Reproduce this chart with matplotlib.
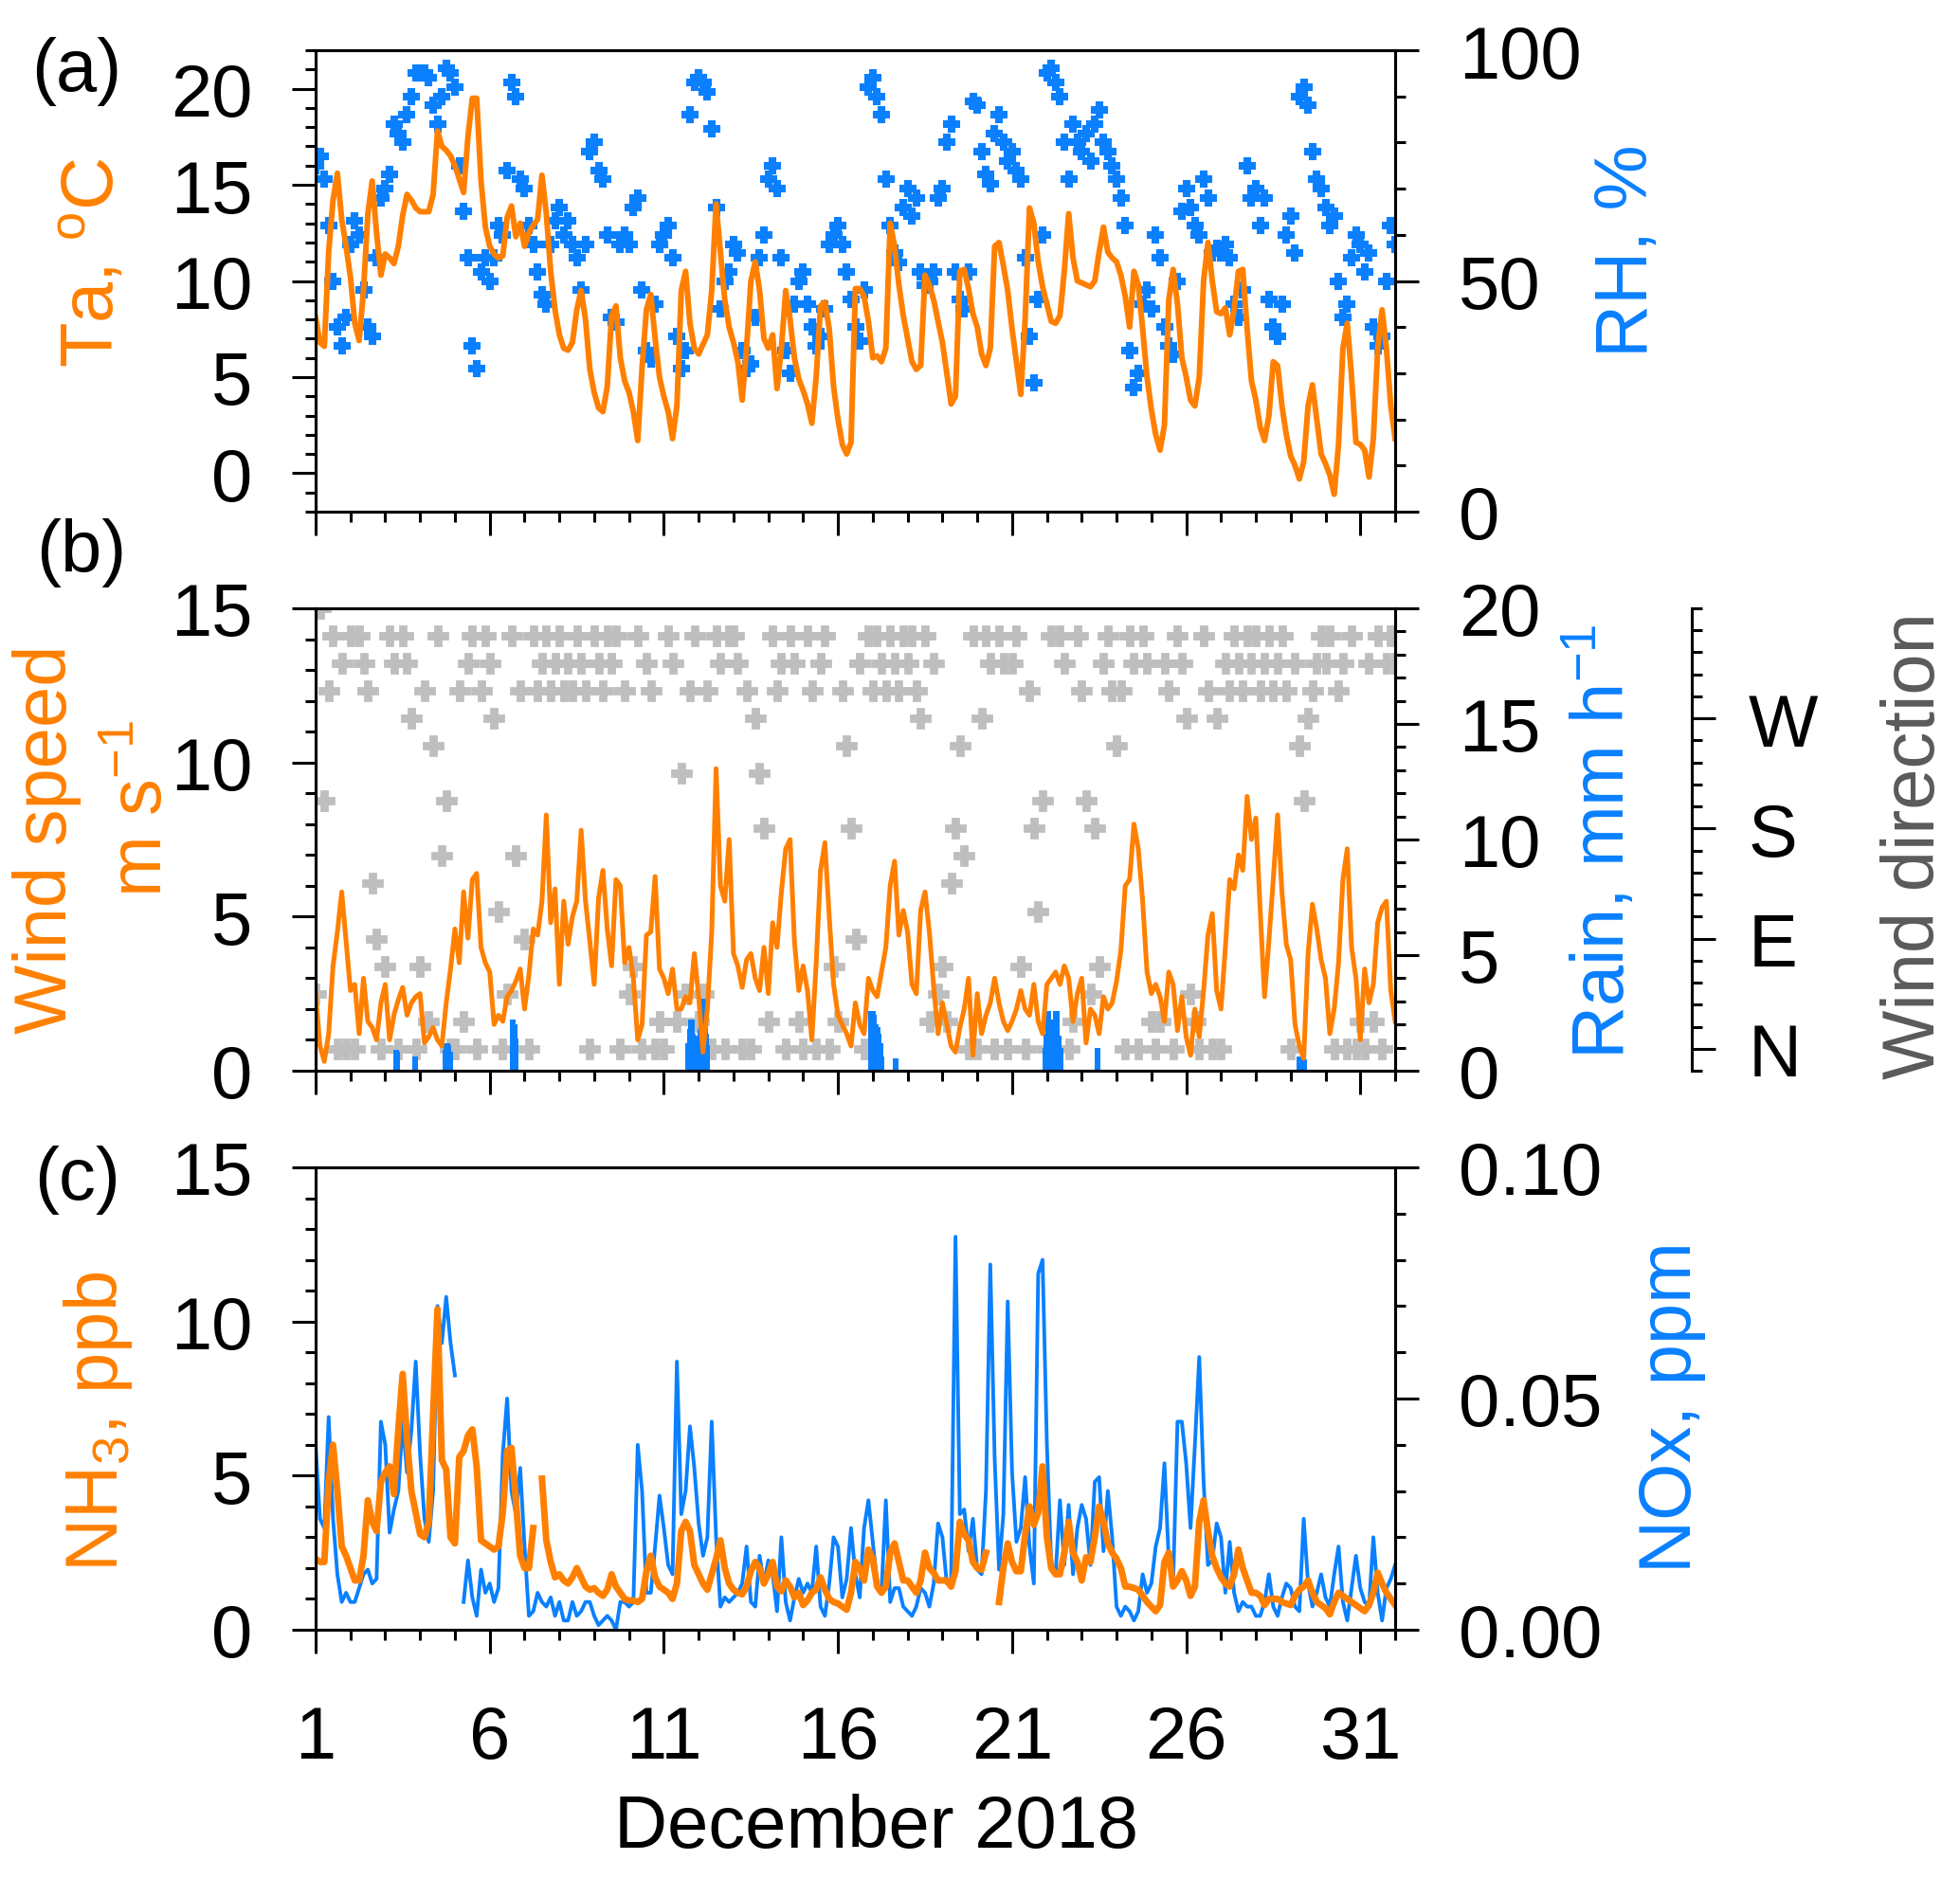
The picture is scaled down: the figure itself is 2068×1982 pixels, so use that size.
import numpy as np
import matplotlib
matplotlib.use('Agg')
import matplotlib.pyplot as plt
from matplotlib.ticker import MultipleLocator, FixedLocator, FormatStrFormatter

plt.rcParams['font.family'] = ['Liberation Sans', 'DejaVu Sans']
plt.rcParams['mathtext.fontset'] = 'custom'
plt.rcParams['mathtext.rm'] = 'Liberation Sans'
plt.rcParams['mathtext.it'] = 'Liberation Sans:italic'
plt.rcParams['mathtext.default'] = 'regular'

ORANGE = '#ff8000'
BLUE = '#0a80ff'
GREY = '#bebebe'
DARKGREY = '#5a5a5a'
FS = 56

# 3-hourly values, 1 Dec 00:00 .. 1 Jan 00:00 (day of month as x)
steps_per_day = 8

ta = [8.1, 6.8, 6.6, 11.5, 14.2, 15.6, 13.2, 11.8,
      10.2, 7.8, 6.9, 9.5, 13.5, 15.2, 12.5, 10.3,
      11.4, 11.2, 10.9, 11.8, 13.4, 14.5, 14.2, 13.8,
      13.6, 13.6, 13.6, 14.5, 17.8, 17.0, 16.8, 16.5,
      16.0, 15.3, 14.6, 17.5, 19.5, 19.5, 15.2, 12.8,
      11.8, 11.4, 11.2, 11.3, 13.3, 13.9, 12.3, 13.0,
      11.8, 12.5, 12.9, 13.2, 15.5, 13.5, 10.5, 8.5,
      7.2, 6.5, 6.4, 6.8, 8.5, 9.5, 8.0, 5.4,
      4.2, 3.4, 3.2, 4.5, 8.2, 8.7, 6.0, 4.8,
      4.2, 3.2, 1.7, 5.5, 8.5, 9.3, 7.0, 5.0,
      4.0, 3.2, 1.8, 3.5, 9.5, 10.5, 7.8, 6.5,
      6.2, 6.7, 7.2, 9.5, 14.0, 11.5, 9.0, 7.6,
      6.8, 5.8, 3.8, 6.5, 10.0, 11.0, 9.5, 7.0,
      6.5, 7.2, 4.4, 6.5, 9.5, 8.0, 6.0, 4.9,
      4.3, 3.6, 2.6, 5.0, 8.7, 8.9, 7.5, 4.5,
      2.8, 1.5, 1.0, 1.6, 9.6, 9.6, 9.2, 7.9,
      6.0, 6.1, 5.8, 6.5, 13.0, 11.8, 9.8, 8.2,
      7.0, 5.8, 5.4, 5.6, 10.3, 9.8, 9.0, 7.9,
      6.8, 5.2, 3.6, 4.0, 10.5, 10.6, 9.6, 8.3,
      7.6, 6.2, 5.6, 6.5, 11.8, 12.0, 10.8, 9.5,
      7.5, 5.8, 4.1, 8.0, 13.8, 13.0, 11.0, 9.7,
      8.8, 7.9, 7.8, 8.2, 10.5, 13.5, 11.2, 10.0,
      9.9, 9.8, 9.7, 10.0, 11.5, 12.8, 11.5, 11.2,
      11.0, 10.3, 9.2, 7.6, 10.5, 9.8, 7.5, 5.0,
      3.3, 2.0, 1.2, 2.5, 9.0, 10.6, 8.8, 6.0,
      5.0, 3.8, 3.5, 5.0, 10.0, 12.0, 10.0, 8.4,
      8.3, 8.6, 7.2, 8.5, 10.5, 10.6, 7.5, 4.8,
      3.8, 2.4, 1.7, 3.0, 5.8, 5.6, 3.5, 2.0,
      0.9, 0.4, -0.3, 0.6, 3.5, 4.6, 2.8, 1.0,
      0.5, -0.1, -1.1, 1.5, 6.5, 7.8, 5.0, 1.6,
      1.5, 1.2, -0.2, 1.8, 6.5, 8.5, 6.5, 3.5,
      1.8]

rh = [75, 77, 72, 62, 50, 40, 36, 42,
      58, 63, 60, 48, 40, 38, 55, 68,
      70, 73, 84, 82, 80, 86, 90, 95,
      95, 95, 94, 88, 84, 90, 96, 95,
      92, 75, 65, 55, 36, 31, 52, 55,
      50, 55, 62, 60, 74, 93, 90, 72,
      70, 62, 58, 52, 47, 45, 58, 63,
      66, 60, 63, 58, 55, 48, 58, 78,
      80, 74, 72, 60, 42, 41, 58, 60,
      58, 66, 68, 48, 35, 33, 45, 58,
      60, 62, 55, 38, 31, 35, 86, 93,
      94, 93, 91, 83, 66, 44, 50, 52,
      58, 56, 35, 31, 32, 42, 55, 60,
      72, 75, 70, 55, 35, 30, 45, 50,
      52, 45, 40, 36, 38, 44, 58, 60,
      62, 58, 52, 46, 40, 37, 48, 92,
      94, 90, 86, 72, 62, 56, 54, 66,
      70, 64, 68, 52, 49, 50, 52, 68,
      70, 80, 84, 52, 46, 44, 52, 89,
      88, 78, 73, 71, 82, 86, 80, 76,
      78, 74, 72, 55, 38, 28, 46, 60,
      95, 96, 93, 90, 80, 72, 84, 80,
      78, 82, 76, 84, 87, 80, 78, 75,
      72, 68, 62, 35, 27, 30, 45, 48,
      44, 60, 55, 40, 36, 34, 50, 65,
      70, 66, 62, 60, 72, 68, 56, 57,
      56, 58, 55, 45, 42, 48, 75, 68,
      70, 62, 68, 46, 40, 38, 45, 60,
      64, 56, 90, 92, 88, 78, 72, 70,
      66, 62, 64, 50, 42, 45, 55, 60,
      58, 52, 56, 40, 36, 38, 50, 62,
      58]

ws = [2.5, 0.8, 0.3, 1.2, 3.4, 4.5, 5.8, 4.2,
      2.6, 2.8, 1.2, 3.0, 1.6, 1.4, 1.0, 2.2,
      2.8, 1.0, 1.8, 2.3, 2.7, 1.8, 2.2, 2.4,
      2.5, 0.9, 1.1, 1.4, 1.0, 0.8, 2.2, 3.3,
      4.6, 3.5, 5.8, 4.3, 6.2, 6.4, 4.0, 3.5,
      3.2, 1.5, 1.8, 1.6, 2.4, 2.6, 2.9, 3.3,
      2.0, 3.1, 4.6, 4.4, 5.5, 8.3, 4.8, 5.9,
      2.8, 5.5, 4.1, 5.0, 5.5, 7.8, 5.5, 4.2,
      2.8, 5.6, 6.5, 4.6, 3.4, 6.2, 6.0, 3.5,
      4.0, 3.0, 1.0, 1.5, 4.4, 4.5, 6.3, 3.3,
      3.0, 2.5, 3.3, 2.0, 2.0, 2.4, 2.2, 3.8,
      2.4, 0.6, 2.0, 4.5, 9.8, 6.0, 5.5, 7.5,
      3.8, 3.4, 2.7, 3.6, 3.8, 3.0, 2.6, 4.0,
      2.5, 4.8, 4.0, 5.8, 7.2, 7.5, 4.2, 2.6,
      3.4, 2.6, 1.0, 3.5, 6.5, 7.4, 5.0, 2.8,
      1.8, 1.5, 1.2, 0.8, 2.2, 1.5, 1.2, 3.0,
      2.6, 2.4, 3.2, 4.0, 6.0, 6.8, 4.4, 5.2,
      4.5, 2.8, 2.5, 5.2, 5.8, 4.5, 2.7, 1.2,
      2.2, 1.5, 0.8, 0.6, 1.4, 2.0, 3.0, 0.5,
      2.5, 1.2, 1.8, 2.2, 3.0, 2.2, 1.6, 1.3,
      1.6, 2.0, 2.6, 2.0, 1.8, 2.8, 1.6, 1.2,
      2.8, 3.0, 3.2, 2.8, 3.4, 3.0, 1.6, 2.5,
      3.0, 0.9, 2.0, 1.8, 1.2, 2.4, 2.0, 2.2,
      2.9, 3.9, 6.0, 6.2, 8.0, 7.2, 5.5, 3.2,
      2.5, 2.8, 2.4, 1.6, 3.2, 2.8, 1.3, 2.4,
      1.1, 0.5, 2.0, 1.1, 2.6, 4.4, 5.1, 2.6,
      2.0, 4.0, 6.2, 5.9, 7.0, 6.5, 8.9, 7.5,
      8.2, 5.2, 2.4, 4.2, 6.2, 8.3, 5.8, 4.1,
      3.6, 1.5, 0.8, 0.4, 3.8, 5.4, 4.6, 3.6,
      3.0, 1.2, 2.0, 3.5, 6.2, 7.2, 4.0, 3.0,
      1.0, 3.3, 2.2, 2.8, 4.8, 5.3, 5.5, 2.6,
      1.6]

# wind direction as 16-point compass sector (0 = N, 4 = E, 8 = S, 12 = W, 16 = N)
wd_sector = [2, 16, 9, 13, 15, 0, 14, 0,
             15, 0, 15, 14, 13, 6, 4, 0,
             3, 15, 14, 0, 15, 14, 12, 0,
             3, 13, 1, 11, 15, 7, 9, 0,
             0, 13, 1, 14, 15, 0, 13, 15,
             14, 12, 5, 0, 2, 15, 7, 13,
             4, 0, 15, 13, 14, 15, 13, 14,
             15, 13, 14, 13, 15, 14, 13, 0,
             15, 14, 13, 15, 14, 15, 0, 13,
             2, 3, 15, 0, 14, 13, 0, 1,
             0, 15, 14, 1, 10, 2, 13, 15,
             1, 2, 13, 0, 15, 14, 0, 15,
             15, 14, 0, 13, 0, 12, 10, 8,
             1, 15, 13, 14, 0, 15, 14, 1,
             0, 15, 13, 0, 14, 15, 0, 3,
             1, 13, 11, 8, 4, 14, 0, 15,
             13, 15, 14, 13, 15, 14, 13, 15,
             14, 15, 13, 12, 15, 1, 14, 2,
             3, 1, 6, 8, 11, 7, 0, 15,
             0, 12, 15, 14, 0, 15, 14, 0,
             14, 15, 3, 0, 13, 8, 5, 9,
             0, 15, 0, 15, 14, 0, 1, 15,
             13, 9, 2, 8, 3, 14, 15, 13,
             11, 13, 0, 15, 14, 0, 15, 14,
             1, 0, 1, 14, 13, 0, 15, 14,
             12, 2, 1, 0, 15, 13, 0, 12,
             0, 14, 13, 15, 14, 13, 15, 14,
             15, 13, 14, 15, 13, 14, 15, 13,
             0, 14, 11, 9, 12, 13, 14, 15,
             14, 15, 0, 13, 14, 0, 15, 0,
             1, 0, 14, 1, 15, 0, 14, 15,
             14]

# hourly rain events
rain_day = [3.31, 3.35, 3.85, 4.73, 4.77, 4.81, 4.85, 6.67, 6.71, 6.75,
            11.71, 11.75, 11.79, 11.83, 11.88, 11.92, 11.96, 12.0, 12.04,
            12.08, 12.13, 12.17, 12.21, 12.25,
            16.96, 17.0, 17.04, 17.08, 17.13, 17.17, 17.21, 17.25, 17.65,
            21.96, 22.0, 22.04, 22.08, 22.13, 22.17, 22.21, 22.25, 22.29,
            22.33, 22.38, 23.46, 29.25, 29.29, 29.33, 29.38]
rain_mm = [0.9, 0.8, 0.6, 0.9, 1.2, 1.1, 0.8, 2.2, 2.0, 1.4,
           1.2, 1.8, 2.2, 1.6, 1.3, 1.0, 1.5, 1.2, 1.8,
           2.6, 3.1, 2.4, 1.6, 1.1,
           2.6, 2.6, 2.4, 2.0, 1.9, 1.6, 1.2, 0.6, 0.55,
           1.0, 1.6, 2.6, 2.2, 1.5, 1.5, 2.0, 2.6, 2.6,
           1.5, 1.0, 1.0, 0.6, 0.6, 0.6, 0.5]

nan = np.nan
nh3 = [2.3, 2.2, 2.2, 4.8, 6.0, 4.5, 2.7, 2.4,
       2.0, 1.6, 1.6, 2.4, 4.2, 3.5, 3.2, 4.8,
       5.1, 5.3, 4.4, 6.5, 8.3, 6.2, 4.5, 3.8,
       3.1, 3.0, 3.5, 7.0, 10.4, 5.5, 5.2, 3.0,
       2.8, 5.6, 5.8, 6.3, 6.5, 5.3, 2.9, 2.8,
       2.7, 2.6, 2.7, 3.8, 5.8, 5.9, 4.2, 2.4,
       2.0, 2.0, 3.3, nan, 4.9, 2.9, 2.2, 1.7,
       1.8, 1.6, 1.5, 1.7, 2.0, 1.7, 1.4, 1.3,
       1.35, 1.2, 1.1, 1.3, 1.8, 1.4, 1.2, 1.0,
       0.95, 0.95, 0.9, 1.0, 1.9, 2.4, 1.7, 1.4,
       1.3, 1.2, 1.0, 1.5, 3.2, 3.5, 3.2, 2.1,
       1.8, 1.5, 1.3, 1.8, 2.3, 2.9, 2.0, 1.5,
       1.3, 1.2, 1.15, 1.4, 1.9, 2.2, 2.0, 1.5,
       1.8, 2.2, 1.4, 1.25, 1.6, 1.4, 1.05, 1.2,
       0.8, 0.95, 1.2, 1.3, 1.7, 1.3, 1.0, 0.9,
       0.85, 0.75, 0.65, 1.2, 2.2, 2.0, 1.6, 2.6,
       2.3, 1.4, 1.2, 1.4, 2.5, 2.8, 2.2, 1.6,
       1.6, 1.4, 1.2, 1.6, 2.5, 2.0, 1.85, 1.6,
       1.6, 1.6, 1.4, 1.9, 3.5, 3.1, 2.9, 2.2,
       2.0, 1.95, 2.5, nan, nan, 0.9, 2.0, 2.8,
       2.2, 1.9, 1.9, 3.1, 4.0, 3.4, 3.8, 5.3,
       3.0, 2.0, 1.8, 1.8, 2.5, 3.5, 2.5, 2.2,
       1.6, 2.35, 2.2, 3.0, 4.0, 3.5, 2.8, 2.5,
       2.3, 2.0, 1.4, 1.4, 1.35, 1.3, 1.1, 0.9,
       0.75, 0.6, 0.8, 2.2, 2.5, 1.4, 1.6, 1.9,
       1.6, 1.1, 1.4, 3.5, 4.2, 3.2, 2.4, 2.0,
       1.7, 1.5, 1.4, 1.8, 2.6, 2.0, 1.6, 1.2,
       1.2, 1.1, 0.8, 1.0, 1.0, 1.0, 0.9, 0.85,
       0.8, 1.1, 1.3, 1.4, 1.6, 1.2, 0.9, 0.8,
       0.7, 0.5, 0.9, 1.2, 1.1, 1.0, 0.9, 0.8,
       0.7, 0.6, 0.8, 1.2, 1.85, 1.5, 1.2, 1.0,
       0.8]

nox = [0.040, 0.024, 0.022, 0.046, 0.024, 0.012, 0.006, 0.008,
       0.006, 0.006, 0.009, 0.012, 0.013, 0.010, 0.011, 0.045,
       0.040, 0.021, 0.026, 0.030, 0.045, 0.034, 0.043, 0.058,
       0.038, 0.024, 0.019, 0.030, 0.070, 0.062, 0.072, 0.062,
       0.055, nan, 0.006, 0.015, 0.007, 0.003, 0.013, 0.008,
       0.010, 0.006, 0.009, 0.038, 0.050, 0.030, 0.025, 0.035,
       0.018, 0.003, 0.004, 0.008, 0.006, 0.005, 0.007, 0.003,
       0.006, 0.002, 0.002, 0.006, 0.003, 0.004, 0.006, 0.006,
       0.003, 0.001, 0.002, 0.003, 0.002, 0.000, 0.006, 0.006,
       0.005, 0.006, 0.040, 0.030, 0.008, 0.008, 0.018, 0.029,
       0.022, 0.014, 0.012, 0.058, 0.025, 0.030, 0.044, 0.035,
       0.023, 0.016, 0.020, 0.045, 0.020, 0.005, 0.007, 0.006,
       0.007, 0.008, 0.010, 0.018, 0.006, 0.005, 0.016, 0.010,
       0.015, 0.012, 0.004, 0.020, 0.006, 0.002, 0.007, 0.011,
       0.008, 0.010, 0.008, 0.018, 0.005, 0.003, 0.010, 0.020,
       0.018, 0.007, 0.011, 0.022, 0.012, 0.007, 0.022, 0.028,
       0.019, 0.010, 0.008, 0.028, 0.006, 0.009, 0.009, 0.005,
       0.004, 0.003, 0.005, 0.009, 0.008, 0.005, 0.010, 0.023,
       0.020, 0.010, 0.011, 0.085, 0.025, 0.026, 0.017, 0.024,
       0.013, 0.012, 0.030, 0.079, 0.037, 0.013, 0.025, 0.071,
       0.034, 0.019, 0.022, 0.033, 0.018, 0.010, 0.077, 0.080,
       0.040, 0.014, 0.012, 0.028, 0.014, 0.027, 0.012, 0.022,
       0.027, 0.024, 0.014, 0.032, 0.033, 0.017, 0.030, 0.020,
       0.005, 0.003, 0.005, 0.004, 0.002, 0.004, 0.012, 0.008,
       0.010, 0.018, 0.022, 0.036, 0.015, 0.010, 0.045, 0.045,
       0.036, 0.022, 0.040, 0.059, 0.032, 0.014, 0.015, 0.023,
       0.020, 0.008, 0.019, 0.008, 0.004, 0.006, 0.005, 0.005,
       0.003, 0.003, 0.006, 0.012, 0.005, 0.003, 0.007, 0.010,
       0.009, 0.005, 0.004, 0.024, 0.010, 0.005, 0.008, 0.012,
       0.007, 0.005, 0.012, 0.018, 0.006, 0.002, 0.009, 0.016,
       0.009, 0.006, 0.005, 0.020, 0.008, 0.002, 0.009, 0.011,
       0.014]

time = 1 + np.arange(len(ta)) / steps_per_day
wd = np.array(wd_sector) * 22.5


def style_axis(ax):
    for s in ax.spines.values():
        s.set_linewidth(2.2)
    ax.tick_params(which='both', direction='out', width=2.2, labelsize=FS)
    ax.tick_params(which='major', length=18, pad=30)
    ax.tick_params(which='minor', length=8)


def style_x(ax, labels):
    ax.set_xlim(1, 32)
    ax.xaxis.set_major_locator(FixedLocator(list(range(1, 32, 5))))
    ax.xaxis.set_minor_locator(MultipleLocator(1))
    ax.tick_params(axis='x', which='major', pad=38, labelbottom=labels)
    ax.tick_params(axis='x', which='both', top=False)


fig = plt.figure(figsize=(20.68, 19.83), dpi=100)
L, W = 333 / 2068, 1139 / 2068

# ---- (a) temperature and RH
ax_a = fig.add_axes([L, 1 - 541 / 1983, W, 487 / 1983])
ax_a2 = ax_a.twinx()
ax_a2.plot(time, rh, 'P', ms=12, color=BLUE, mec=BLUE, mew=1.5, ls='none')
ax_a.plot(time, ta, color=ORANGE, lw=4.3)
ax_a.set_zorder(ax_a2.get_zorder() + 1)
ax_a.patch.set_visible(False)
ax_a.set_ylim(-2, 22)
ax_a.set_yticks([0, 5, 10, 15, 20])
ax_a.yaxis.set_minor_locator(MultipleLocator(1))
ax_a2.set_ylim(0, 100)
ax_a2.set_yticks([0, 50, 100])
ax_a2.yaxis.set_minor_locator(MultipleLocator(10))
for ax in (ax_a, ax_a2):
    style_axis(ax)
style_x(ax_a, False)

# ---- (b) wind speed, rain, wind direction
ax_b = fig.add_axes([L, 1 - 1131 / 1983, W, 488 / 1983])
ax_b3 = ax_b.twinx()
ax_b2 = ax_b.twinx()
ax_b3.plot(time, wd, 'P', ms=14, color=GREY, mec=GREY, mew=2, ls='none')
ax_b2.bar(rain_day, rain_mm, width=0.17, color=BLUE, align='center')
ax_b.plot(time, ws, color=ORANGE, lw=3.6)
ax_b3.set_zorder(1)
ax_b2.set_zorder(2)
ax_b.set_zorder(3)
ax_b.patch.set_visible(False)
ax_b2.patch.set_visible(False)
ax_b.set_ylim(0, 15)
ax_b.set_yticks([0, 5, 10, 15])
ax_b.yaxis.set_minor_locator(MultipleLocator(1))
ax_b2.set_ylim(0, 20)
ax_b2.set_yticks([0, 5, 10, 15, 20])
ax_b2.yaxis.set_minor_locator(MultipleLocator(1))
ax_b3.set_ylim(-18, 360)
ax_b3.spines['right'].set_position(('axes', (1785 - 333) / 1139))
for side in ('left', 'top', 'bottom'):
    ax_b3.spines[side].set_visible(False)
ax_b3.yaxis.set_major_locator(FixedLocator([0, 90, 180, 270]))
ax_b3.set_yticklabels(['N', 'E', 'S', 'W'])
ax_b3.yaxis.set_minor_locator(MultipleLocator(18))
for ax in (ax_b, ax_b2, ax_b3):
    style_axis(ax)
ax_b3.tick_params(axis='y', which='major', pad=25)
style_x(ax_b, False)

# ---- (c) NH3 and NOx
ax_c = fig.add_axes([L, 1 - 1721 / 1983, W, 488 / 1983])
ax_c2 = ax_c.twinx()
ax_c2.plot(time, nox, color=BLUE, lw=2.8)
ax_c.plot(time, nh3, color=ORANGE, lw=5)
ax_c.set_zorder(ax_c2.get_zorder() + 1)
ax_c.patch.set_visible(False)
ax_c.set_ylim(0, 15)
ax_c.set_yticks([0, 5, 10, 15])
ax_c.yaxis.set_minor_locator(MultipleLocator(1))
ax_c2.set_ylim(0, 0.10)
ax_c2.set_yticks([0, 0.05, 0.10])
ax_c2.yaxis.set_major_formatter(FormatStrFormatter('%.2f'))
ax_c2.yaxis.set_minor_locator(MultipleLocator(0.01))
for ax in (ax_c, ax_c2):
    style_axis(ax)
style_x(ax_c, True)


def label(x, y, s, color='black', rot=90):
    fig.text(x / 2068, 1 - y / 1983, s, color=color, fontsize=FS,
             rotation=rot, ha='center', va='center')


label(100, 277, 'Ta, $^{o}$C', ORANGE)
label(1717, 265, 'RH, %', BLUE)
label(50, 886, 'Wind speed', ORANGE)
label(150, 853, 'm s$^{-1}$', ORANGE)
label(1690, 888, 'Rain, mm h$^{-1}$', BLUE)
label(2020, 893, 'Wind direction', DARKGREY)
label(103, 1500, 'NH$_{3}$, ppb', ORANGE)
label(1763, 1485, 'NOx, ppm', BLUE)
label(81, 76, '(a)', rot=0)
label(86, 584, '(b)', rot=0)
label(82, 1245, '(c)', rot=0)
label(924, 1930, 'December 2018', rot=0)

fig.savefig('out.png', dpi=100, facecolor='white')
